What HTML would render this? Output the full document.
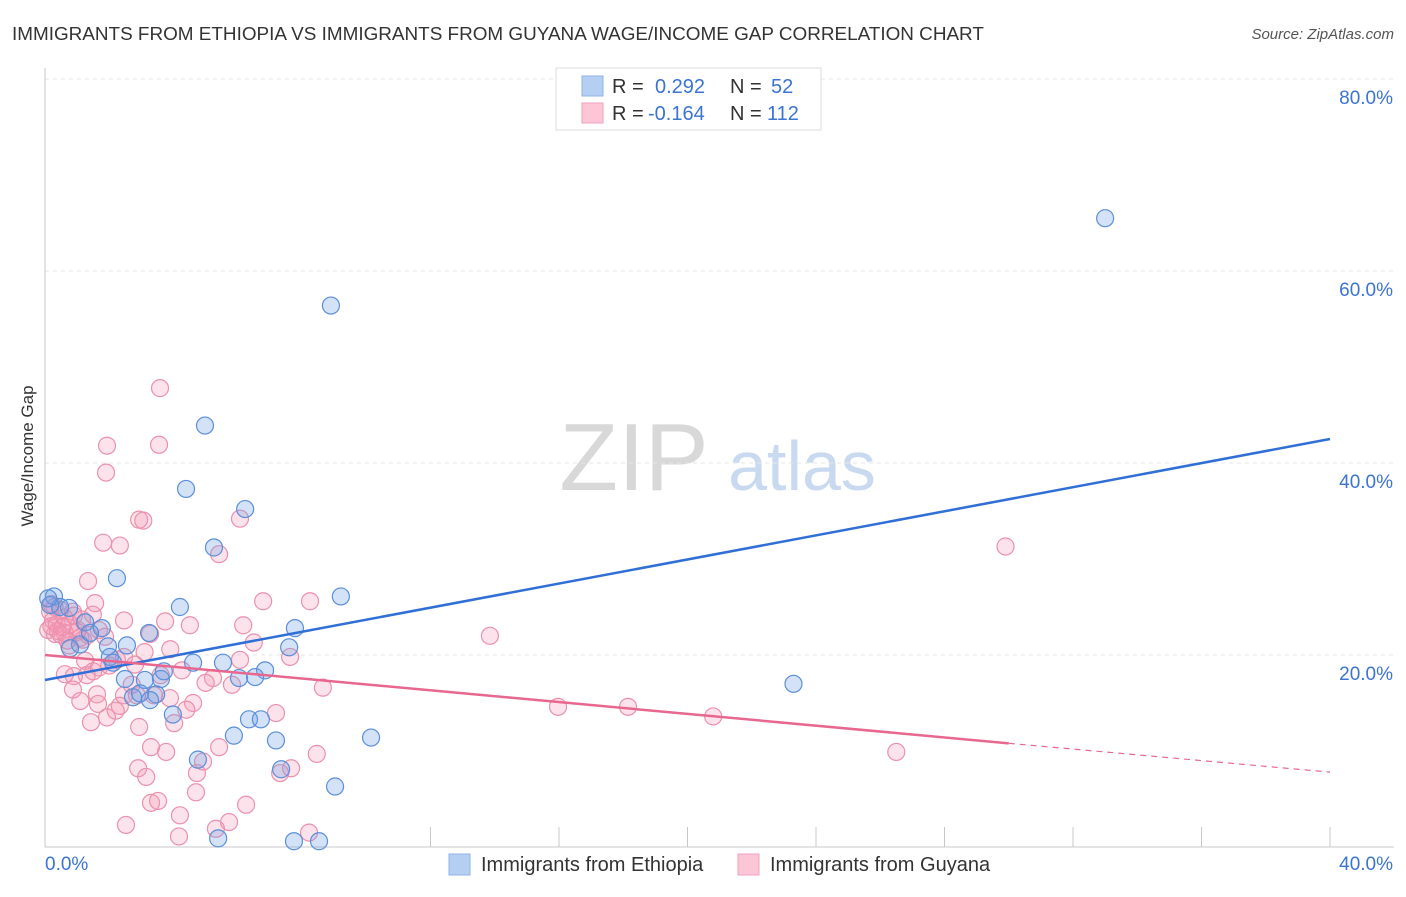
<!DOCTYPE html>
<html><head><meta charset="utf-8">
<style>
body{margin:0;background:#fff;font-family:"Liberation Sans",sans-serif;}
svg text{font-family:"Liberation Sans",sans-serif;}
</style></head>
<body>
<svg id="chart" width="1406" height="892" xmlns="http://www.w3.org/2000/svg">
<text x="12" y="40" font-size="18.9" fill="#333">IMMIGRANTS FROM ETHIOPIA VS IMMIGRANTS FROM GUYANA WAGE/INCOME GAP CORRELATION CHART</text>
<text x="1394" y="39" font-size="15" fill="#555" font-style="italic" text-anchor="end">Source: ZipAtlas.com</text>
<text transform="translate(33,456) rotate(-90)" font-size="17" fill="#333" text-anchor="middle">Wage/Income Gap</text>
<g>
<text x="634" y="490" font-size="96" fill="#d8d8d8" font-family="Liberation Serif,serif" text-anchor="middle">ZIP</text>
<text x="802" y="490" font-size="70" fill="#c9daf0" text-anchor="middle">atlas</text>
</g>
<g id="grid"></g>
<g id="axes"></g>
<g id="points"></g>
<g id="lines"></g>
<g>
<rect x="556" y="68" width="265" height="62" fill="#fff" stroke="#ddd"/>
<rect x="582" y="76" width="21" height="20" fill="#b5cff3" stroke="#8fb3e6"/>
<rect x="582" y="103" width="21" height="20" fill="#fcc6d6" stroke="#f0a2bb"/>
<text x="612" y="93" font-size="20" fill="#333">R = </text><text x="655" y="93" font-size="20" fill="#3b74d1">0.292</text>
<text x="730" y="93" font-size="20" fill="#333">N = </text><text x="771" y="93" font-size="20" fill="#3b74d1">52</text>
<text x="612" y="120" font-size="20" fill="#333">R = </text><text x="648" y="120" font-size="20" fill="#3b74d1">-0.164</text>
<text x="730" y="120" font-size="20" fill="#333">N = </text><text x="767" y="120" font-size="20" fill="#3b74d1">112</text>
</g>
<g>
<rect x="449" y="854" width="21" height="21" fill="#b5cff3" stroke="#8fb3e6"/>
<text x="481" y="871" font-size="20" fill="#333">Immigrants from Ethiopia</text>
<rect x="738" y="854" width="21" height="21" fill="#fcc6d6" stroke="#f0a2bb"/>
<text x="770" y="871" font-size="20" fill="#333">Immigrants from Guyana</text>
</g>
</svg>
<script>
const yTicks=[20,40,60,80];
const yTickLabels=["20.0%","40.0%","60.0%","80.0%"];
const xTickValues=[12,16,20,24,28,32,36,40];
const xEndLabels=["0.0%","40.0%"];
const ethX=[33.0,8.9,4.98,4.39,6.23,5.26,2.24,9.21,0.28,4.2,0.75,7.78,1.77,3.24,2.55,7.6,1.96,1.09,6.85,4.61,5.54,3.11,3.61,6.04,6.54,3.7,2.02,23.3,2.74,3.46,3.98,6.35,6.72,5.88,7.19,10.15,4.76,7.35,9.03,5.39,7.75,8.53,1.25,0.47,0.78,2.12,2.96,0.16,1.4,3.27,2.49,0.1];
const ethY=[65.5,56.4,43.9,37.3,35.2,31.2,28.0,26.1,26.1,25.0,24.9,22.8,22.8,22.3,21.0,20.8,20.9,21.1,18.4,19.2,19.2,17.4,17.5,17.6,17.7,18.3,19.8,17.0,15.6,15.9,13.8,13.3,13.3,11.6,11.1,11.4,9.1,8.1,6.3,0.9,0.6,0.6,23.4,25.0,20.7,19.2,16.0,25.2,22.3,15.3,17.5,25.9];
const guyX=[3.58,1.93,3.55,1.9,2.93,3.06,6.07,1.81,2.33,5.42,29.9,1.34,1.56,6.79,8.25,13.85,2.46,3.74,4.51,6.17,1.49,0.87,0.47,0.25,0.1,0.31,0.62,1.03,1.34,0.16,0.37,0.78,1.15,1.68,1.87,1.0,1.18,3.27,6.5,0.75,2.24,1.25,2.46,6.07,7.63,0.62,0.9,1.68,4.26,5.23,5.0,5.82,8.65,0.87,1.62,2.46,2.86,3.39,3.89,1.65,2.33,4.61,15.97,18.15,20.8,1.93,1.43,2.93,4.02,7.19,3.3,3.77,5.42,8.46,4.92,26.5,2.9,3.15,4.73,7.32,7.66,4.7,3.3,3.52,6.26,4.2,2.52,5.73,5.32,4.17,8.22,0.2,0.5,0.9,1.1,0.3,0.6,2.0,2.7,3.9,4.4,1.3,2.2,3.6,0.4,0.7,1.5,2.8,3.1,1.1,0.2,0.55];
const guyY=[47.8,41.8,41.9,39.0,34.1,34.0,34.2,31.7,31.4,30.5,31.3,27.7,25.4,25.6,25.6,22.0,23.6,23.5,23.1,23.1,24.2,24.5,24.7,23.6,22.6,22.2,22.3,22.6,22.1,24.5,23.2,23.2,23.7,22.6,21.9,22.4,21.6,22.2,21.3,21.0,19.5,19.4,19.8,19.5,19.8,18.0,17.8,18.7,18.4,17.6,17.1,16.9,16.6,16.4,15.9,15.8,15.8,15.8,15.5,14.9,14.7,15.0,14.6,14.6,13.6,13.5,13.0,12.5,12.9,13.95,10.4,9.9,10.4,9.7,8.9,9.9,8.2,7.3,7.7,7.7,8.2,5.7,4.6,4.8,4.4,3.3,2.3,2.6,1.9,1.1,1.5,23.0,22.1,24.1,21.8,25.0,23.9,18.9,16.9,20.6,14.3,17.9,14.2,17.9,22.5,21.5,18.3,19.0,20.3,15.2,25.3,22.9];
const ethLine=[[0,17.4],[40,42.5]];
const guyLine=[[0,20.0],[30,10.8],[40,7.8]];
const NS="http://www.w3.org/2000/svg";
const X0=45,X1=1330,Y0=847,Y1=79;
function sx(v){return X0+(v-0)/(40-0)*(X1-X0);}
function sy(v){return Y0-(v-0)/(80-0)*(Y0-Y1);}
function mk(tag,attrs,parent){const e=document.createElementNS(NS,tag);for(const k in attrs)e.setAttribute(k,attrs[k]);parent.appendChild(e);return e;}
const grid=document.getElementById('grid'),axes=document.getElementById('axes'),pts=document.getElementById('points'),lines=document.getElementById('lines');
yTicks.forEach((t,i)=>{
 const l=mk('line',{x1:X0,x2:1394,y1:sy(t),y2:sy(t),stroke:'#e6e6e6','stroke-dasharray':'4,4'},grid);
 
 
 const tx=mk('text',{x:1393,y:sy(t)+25,'font-size':19,fill:'#3b74d1','text-anchor':'end'},axes);
 tx.textContent=yTickLabels[i];
 
 
});
const ya=mk('line',{x1:X0,x2:X0,y1:68,y2:Y0,stroke:'#c8c8c8'},axes);


const xa=mk('line',{x1:X0,x2:1394,y1:Y0,y2:Y0,stroke:'#c8c8c8'},axes);


xTickValues.forEach(t=>{
 const l=mk('line',{x1:sx(t),x2:sx(t),y1:Y0-20,y2:Y0,stroke:'#c8c8c8'},axes);
 
 
});
const xl0=mk('text',{x:45,y:870,'font-size':19,fill:'#3b74d1'},axes);xl0.textContent=xEndLabels[0];


const xl1=mk('text',{x:1393,y:870,'font-size':19,fill:'#3b74d1','text-anchor':'end'},axes);xl1.textContent=xEndLabels[1];


guyX.forEach((v,i)=>{
 const c=mk('circle',{cx:sx(v),cy:sy(guyY[i]),r:8.5,fill:'rgba(244,150,180,0.28)',stroke:'#eb91ad','stroke-width':1.2},pts);
 
 
});
ethX.forEach((v,i)=>{
 const c=mk('circle',{cx:sx(v),cy:sy(ethY[i]),r:8.5,fill:'rgba(110,160,230,0.3)',stroke:'#5b8fd9','stroke-width':1.2},pts);
 
 
});
const bl=mk('line',{x1:sx(ethLine[0][0]),y1:sy(ethLine[0][1]),x2:sx(ethLine[1][0]),y2:sy(ethLine[1][1]),stroke:'#2f6fd6','stroke-width':2.5},lines);


const pl=mk('line',{x1:sx(guyLine[0][0]),y1:sy(guyLine[0][1]),x2:sx(guyLine[1][0]),y2:sy(guyLine[1][1]),stroke:'#e8678f','stroke-width':2.5},lines);


const pd=mk('line',{x1:sx(guyLine[1][0]),y1:sy(guyLine[1][1]),x2:sx(guyLine[2][0]),y2:sy(guyLine[2][1]),stroke:'#e8678f','stroke-width':1.2,'stroke-dasharray':'6,5'},lines);


</script>
</body></html>
